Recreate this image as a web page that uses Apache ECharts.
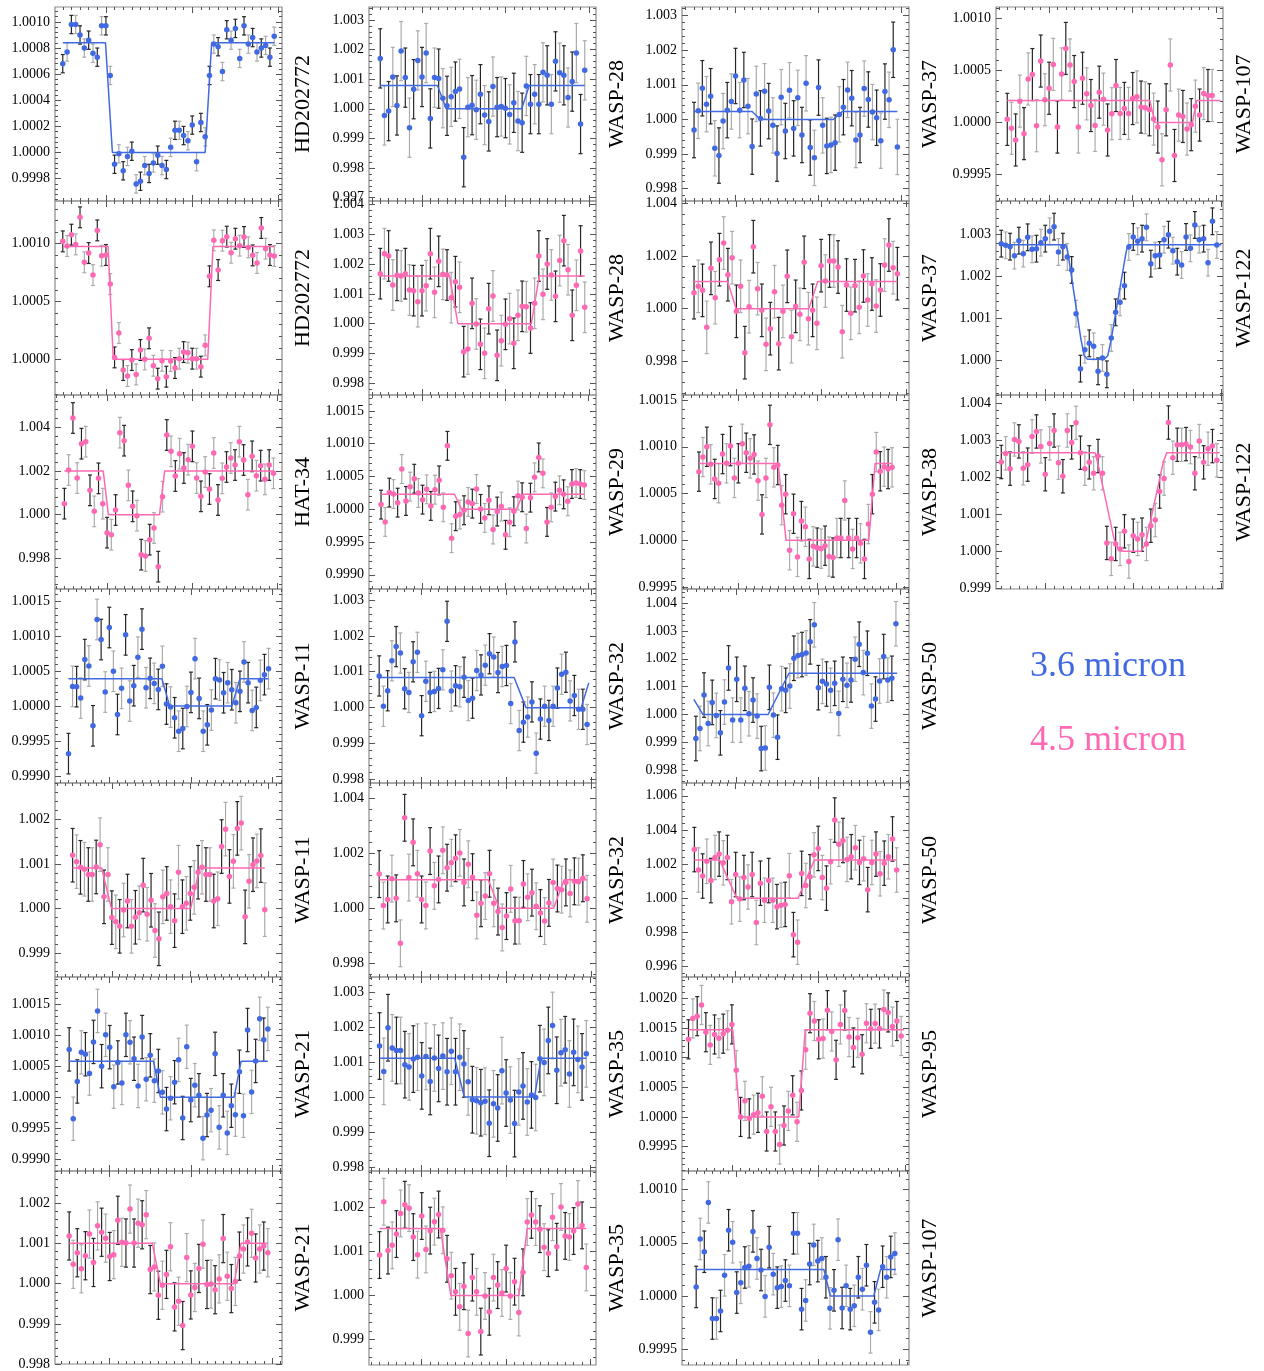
<!DOCTYPE html>
<html>
<head>
<meta charset="utf-8">
<script src="https://cdn.jsdelivr.net/npm/echarts@6/dist/echarts.min.js"></script>
<style>
  html, body { margin: 0; padding: 0; background: #fff; }
  #chart { width: 1264px; height: 1371px; }
</style>
</head>
<body>
<div id="chart"></div>
<script>
// Binned secondary-eclipse light curves, relative flux (F - 1) in ppm, one bin per entry.
const hd202772_36 = [680,770,980,980,900,800,860,760,730,970,970,590,-90,-10,-140,-30,10,-240,-220,-100,-160,-80,-20,-100,-130,40,170,170,130,90,210,-70,230,120,590,830,810,620,940,860,950,720,970,830,880,770,800,820,730,890];
const hd202772_45 = [1020,980,1078,994,1228,839,919,729,1115,896,902,651,17,228,-92,-144,-6,-130,81,0,182,-55,-167,-12,-150,-14,-75,6,63,58,6,6,-63,121,718,1029,772,1026,1061,922,1043,983,1058,968,899,833,1136,957,902,893];
const hat34_45 = [503,2041,4417,1675,3244,3335,1112,152,1660,503,-822,-914,213,3747,3381,1340,381,-46,-1828,-1889,-1142,-609,-2376,822,3640,2894,1767,2787,2132,2513,3122,1675,838,1949,1173,2818,670,1660,2178,2589,2269,3335,2498,914,2665,1782,2239,1614,2269,1889];
const wasp11_36 = [-680,282,278,115,665,574,-282,1239,952,201,1124,498,-120,254,1019,72,292,699,1101,263,397,325,239,569,29,-14,-167,-359,-321,-5,196,679,110,-359,-268,-57,392,373,191,335,234,48,211,632,335,-62,-19,368,450,536];
const wasp11_45 = [1195,1051,924,881,763,763,932,1432,263,763,-203,-297,-398,-34,169,-398,-195,-93,525,-127,186,-492,-678,263,339,42,-271,814,42,119,339,475,814,924,763,763,169,220,1390,1780,720,1059,1797,1915,-186,610,983,1068,1187,-25];
const wasp21_36 = [771,-349,253,723,693,380,892,1392,500,1006,807,169,560,229,1006,886,620,181,970,289,675,265,422,78,-193,-18,241,602,-337,813,-48,193,30,-663,-289,-211,699,-488,30,-578,-139,-283,410,-301,1084,84,584,1265,928,1102];
const wasp21_45 = [1190,484,772,372,698,1237,530,1442,1283,1135,679,725,1581,1032,1014,1860,1014,1507,1469,1721,353,419,-288,-37,233,921,-577,-437,-1042,651,-279,-93,381,986,-19,-9,-149,121,1125,186,-121,56,688,865,1042,1256,642,865,939,772];
const wasp28_36 = [1702,-224,-78,1075,112,1949,1053,-638,661,1635,1075,1882,-325,1053,1019,358,101,403,582,672,-1635,56,123,-34,493,-213,-426,750,56,78,22,-190,202,-414,-470,773,157,493,157,1232,1131,157,1602,1221,1131,381,918,1882,-515,1299];
const wasp28_45 = [1680,2352,2274,1299,1624,1602,1680,1131,1109,739,1109,1277,2352,1053,2094,1658,1635,874,1411,1221,-941,-851,683,-11,-694,-997,504,930,-1064,-571,-22,168,-661,280,582,571,-146,683,2274,986,2005,1635,918,2120,2789,1814,280,1288,2442,549];
const wasp29_45 = [71,-193,254,233,101,614,127,345,466,248,147,304,51,299,441,30,968,-441,-106,-81,-15,112,86,309,5,-132,137,-309,-35,41,-390,-198,-30,208,183,-294,177,487,791,548,-193,30,193,289,228,122,385,401,385,370];
const wasp32_36 = [883,38,470,1305,1700,1521,526,423,1277,1540,-225,732,423,451,535,1052,2404,460,610,582,845,197,263,1033,911,1183,1502,1408,977,1146,1174,113,1831,-639,-404,-263,160,-1268,-319,38,-357,38,545,930,986,188,338,-47,-47,-470];
const wasp32_45 = [1236,96,316,1071,357,-1277,3281,1112,2389,1249,316,96,2073,810,1043,2100,1469,1648,1812,2005,934,1593,1126,-261,178,439,1249,178,-124,-700,-288,700,-453,-453,879,398,563,69,-178,-467,192,934,714,673,934,535,975,960,1085,343];
const wasp35_36 = [1458,734,1979,1404,1330,1330,926,862,1085,1138,606,1160,447,1117,819,1170,724,1309,724,1138,947,436,-74,-106,-160,-117,-745,-192,-309,755,117,-85,-755,149,319,-138,64,-11,1096,990,1617,2043,766,1266,1351,660,1277,1075,862,1234];
const wasp35_45 = [918,2125,1020,1139,1394,1862,2057,1981,1326,927,1802,1046,1471,1675,1836,1479,833,451,85,-255,213,-859,408,85,-816,-9,-366,408,238,60,612,-9,315,-383,527,1666,1828,1666,1505,1097,961,1777,1105,2006,1352,1326,1462,2074,1590,638];
const wasp37_36 = [-307,249,901,441,671,-834,-1044,-48,268,517,1255,268,1140,383,-786,738,29,814,240,-172,-987,642,-335,843,-259,623,-450,1044,-814,-1111,920,-172,-766,-738,-671,144,354,853,613,-594,-450,891,575,211,48,-613,805,565,2012,-795];
const wasp37_45 = [609,850,697,-710,1534,418,1864,2498,1293,1940,-101,850,-1674,76,2358,761,-63,-1357,-761,647,-1331,-101,1230,-1065,89,-216,1763,-380,-63,-558,1636,1052,1813,1813,1585,-875,900,-178,875,51,1243,330,938,101,710,1661,2422,1560,1331];
const wasp38_45 = [734,890,1000,812,656,610,922,823,1007,667,823,1032,936,876,918,638,277,667,1234,780,805,376,493,-106,284,-177,206,145,-199,-64,-78,-89,-57,-174,-184,25,25,426,25,-92,25,-32,-199,174,493,943,738,787,762,780];
const wasp50_36 = [-865,-505,697,-325,433,-36,-661,445,1671,-204,1262,-204,938,24,517,-60,-1226,-1202,974,-24,-817,926,865,1022,2019,2116,2152,2212,2608,3221,962,1190,1094,865,1118,36,1262,1046,1238,1983,2524,1503,2200,300,553,1202,2079,1238,1298,3257];
const wasp50_45 = [2853,1659,1305,2168,1040,2389,2588,2079,2389,-199,1394,-44,1217,664,1394,-1416,885,-111,1040,-111,-487,-398,-354,1327,-2124,-2566,1460,752,1261,2544,2920,1217,597,2146,4579,3163,3384,2278,2433,2964,2101,2323,509,2101,2588,1438,2057,2433,3473,1659];
const wasp95_45 = [1310,1663,1701,1890,1430,1216,1392,1329,1405,1462,1562,788,0,271,-25,38,69,347,-246,170,-246,-466,-145,101,365,-82,447,1134,1751,1619,1310,1323,1802,1443,964,1562,1796,1348,1172,1336,1058,1581,1487,1575,1493,1814,1764,1525,1619,1367];
const wasp107_36 = [85,536,416,879,-212,-212,-141,194,618,505,32,124,268,279,607,353,244,-4,459,205,78,88,145,95,589,589,-124,-42,300,480,328,353,176,-116,53,529,-113,95,-124,-92,176,64,289,-342,-60,-131,275,176,367,399];
const wasp107_45 = [29,-57,-169,204,-108,417,459,-32,589,217,328,557,-45,465,710,551,392,-45,424,274,162,-29,290,223,-73,83,354,86,134,86,229,245,147,140,121,32,-45,-360,121,551,-318,70,57,-64,-22,156,70,277,258,258];
const wasp122_36 = [2785,2745,2713,2498,2857,2546,2937,2649,2665,2809,2905,3080,3192,2585,2713,2466,2155,1109,-207,247,399,327,-271,48,-343,527,1141,1381,1780,2705,2945,2841,2905,3176,2306,2498,2514,2881,3000,2617,2354,2274,2945,2673,3232,2881,2905,2330,3320,2753];
const wasp122_45 = [2410,2643,2231,3020,2966,2240,2339,3100,3235,2831,2079,2912,3261,2392,2025,3261,2939,3468,2661,2231,2401,2106,2572,2106,224,-206,197,63,538,-278,421,332,448,197,690,842,1613,1962,3476,2527,2876,2876,2894,2813,2106,2975,2401,2769,2840,2455];

// Best-fit eclipse models: [bin, ppm] vertices.
const hd202772_36_fit = [[0,840],[9.9,840],[11.5,0],[33.0,0],[34.5,840],[49,840]];
const hd202772_45_fit = [[0,975],[10.5,975],[11.7,0],[33.6,0],[34.8,975],[49,975]];
const hat34_45_fit = [[0,2000],[9.1,2000],[10.3,0],[22.3,0],[23.5,2000],[49,2000]];
const wasp11_36_fit = [[0,390],[22.9,390],[24.8,0],[40.0,0],[42.0,390],[49,390]];
const wasp11_45_fit = [[0,910],[7.4,910],[9.9,0],[30.1,0],[32.4,910],[49,910]];
const wasp21_36_fit = [[0,580],[20.8,580],[22.5,0],[40.7,0],[42.4,580],[49,580]];
const wasp21_45_fit = [[0,1010],[20.5,1010],[22.5,0],[40.7,0],[42.4,1010],[49,1010]];
const wasp28_36_fit = [[0,790],[13.7,790],[15.8,0],[33.9,0],[35.7,790],[49,790]];
const wasp28_45_fit = [[0,1600],[16.6,1600],[18.6,0],[36.2,0],[38.1,1600],[49,1600]];
const wasp29_45_fit = [[0,230],[17.7,230],[19.4,0],[32.6,0],[34.2,230],[49,230]];
const wasp32_36_fit = [[0,840],[31.8,840],[34.6,0],[47.6,0],[49.4,690]];
const wasp32_45_fit = [[0,1030],[25.7,1030],[28.3,0],[41.1,0],[43.6,1030],[49,1030]];
const wasp35_36_fit = [[0,1110],[17.8,1110],[20.1,0],[36.7,0],[38.3,1110],[49,1110]];
const wasp35_45_fit = [[0,1520],[14.4,1520],[16.9,0],[33.0,0],[35.0,1520],[49,1520]];
const wasp37_36_fit = [[0,230],[14.0,230],[16.0,0],[33.6,0],[35.7,230],[49,230]];
const wasp37_45_fit = [[0,1030],[7.96,1030],[9.93,0],[27.1,0],[29.2,1030],[48,1030]];
const wasp38_45_fit = [[0,820],[20.1,820],[22.1,0],[43.1,0],[44.7,820],[49,820]];
const wasp50_36_fit = [[-0.5,541],[1.7,0],[17.7,0],[22.8,1480],[49.3,1480]];
const wasp50_45_fit = [[0,2250],[6.1,2250],[10.3,0],[25.1,0],[29.1,2250],[49,2250]];
const wasp95_45_fit = [[0,1470],[10.2,1470],[11.8,0],[25.4,0],[26.9,1470],[49.6,1470]];
const wasp107_36_fit = [[0,250],[31.5,250],[33.1,0],[43.8,0],[45.5,250],[49.3,250]];
const wasp107_45_fit = [[0,210],[34.1,210],[35.3,0],[44.3,0],[45.3,210],[51,210]];
const wasp122_36_fit = [[0,2760],[14.66,2760],[15.1,2600],[18.1,500],[18.85,100],[19.6,20],[23.4,20],[24.2,100],[25.0,500],[28.4,2600],[28.9,2760],[50,2760]];
const wasp122_45_fit = [[0,2660],[21.3,2660],[21.9,2400],[25.7,300],[26.7,30],[27.6,0],[31.8,0],[32.8,200],[36.8,2400],[37.6,2660],[49.6,2660]];

// One panel per target and channel; err = 1-sigma bin uncertainty (ppm),
// y = [min, max, major step] in ppm, x = bin range shown.
const panels = [
  { target: 'HD202772', band: '3.6', col: 0, row: 0, flux: hd202772_36, fit: hd202772_36_fit, err: 70,  y: [-371, 1114, 200],  x: [-1.8, 50.8] },
  { target: 'HD202772', band: '4.5', col: 0, row: 1, flux: hd202772_45, fit: hd202772_45_fit, err: 90,  y: [-308, 1369, 500],  x: [-1.8, 50.8] },
  { target: 'HAT-34',   band: '4.5', col: 0, row: 2, flux: hat34_45,    fit: hat34_45_fit,    err: 700, y: [-3396, 5468, 2000], x: [-2.2, 51.0] },
  { target: 'WASP-11',  band: '3.6', col: 0, row: 3, flux: wasp11_36,   fit: wasp11_36_fit,   err: 290, y: [-1100, 1675, 500], x: [-3.3, 52.3] },
  { target: 'WASP-11',  band: '4.5', col: 0, row: 4, flux: wasp11_45,   fit: wasp11_45_fit,   err: 600, y: [-1534, 2814, 1000], x: [-4.5, 53.4] },
  { target: 'WASP-21',  band: '3.6', col: 0, row: 5, flux: wasp21_36,   fit: wasp21_36_fit,   err: 350, y: [-1193, 1940, 500], x: [-3.5, 52.5] },
  { target: 'WASP-21',  band: '4.5', col: 0, row: 6, flux: wasp21_45,   fit: wasp21_45_fit,   err: 600, y: [-2000, 2809, 1000], x: [-3.5, 52.5] },
  { target: 'WASP-28',  band: '3.6', col: 1, row: 0, flux: wasp28_36,   fit: wasp28_36_fit,   err: 1000, y: [-3114, 3438, 1000], x: [-2.7, 51.7] },
  { target: 'WASP-28',  band: '4.5', col: 1, row: 1, flux: wasp28_45,   fit: wasp28_45_fit,   err: 850, y: [-2397, 4122, 1000], x: [-2.7, 51.7] },
  { target: 'WASP-29',  band: '4.5', col: 1, row: 2, flux: wasp29_45,   fit: wasp29_45_fit,   err: 220, y: [-1217, 1744, 500], x: [-2.9, 51.8] },
  { target: 'WASP-32',  band: '3.6', col: 1, row: 3, flux: wasp32_36,   fit: wasp32_36_fit,   err: 560, y: [-2100, 3305, 1000], x: [-2.4, 51.1] },
  { target: 'WASP-32',  band: '4.5', col: 1, row: 4, flux: wasp32_45,   fit: wasp32_45_fit,   err: 850, y: [-2499, 4544, 2000], x: [-2.4, 51.1] },
  { target: 'WASP-35',  band: '3.6', col: 1, row: 5, flux: wasp35_36,   fit: wasp35_36_fit,   err: 950, y: [-2107, 3426, 1000], x: [-2.5, 51.3] },
  { target: 'WASP-35',  band: '4.5', col: 1, row: 6, flux: wasp35_45,   fit: wasp35_45_fit,   err: 530, y: [-1572, 2822, 1000], x: [-2.5, 51.3] },
  { target: 'WASP-37',  band: '3.6', col: 2, row: 0, flux: wasp37_36,   fit: wasp37_36_fit,   err: 800, y: [-2357, 3248, 1000], x: [-2.9, 51.8] },
  { target: 'WASP-37',  band: '4.5', col: 2, row: 1, flux: wasp37_45,   fit: wasp37_45_fit,   err: 1000, y: [-3284, 4096, 2000], x: [-2.84, 50.75] },
  { target: 'WASP-38',  band: '4.5', col: 2, row: 2, flux: wasp38_45,   fit: wasp38_45_fit,   err: 210, y: [-520, 1553, 500],  x: [-4.3, 53.3] },
  { target: 'WASP-50',  band: '3.6', col: 2, row: 3, flux: wasp50_36,   fit: wasp50_36_fit,   err: 800, y: [-2464, 4508, 1000], x: [-3.4, 52.2] },
  { target: 'WASP-50',  band: '4.5', col: 2, row: 4, flux: wasp50_45,   fit: wasp50_45_fit,   err: 1300, y: [-4601, 6747, 2000], x: [-3.0, 52.0] },
  { target: 'WASP-95',  band: '4.5', col: 2, row: 5, flux: wasp95_45,   fit: wasp95_45_fit,   err: 330, y: [-913, 2362, 500],  x: [-1.5, 50.8] },
  { target: 'WASP-107', band: '3.6', col: 2, row: 6, flux: wasp107_36,  fit: wasp107_36_fit,  err: 195, y: [-649, 1175, 500],  x: [-3.5, 52.5] },
  { target: 'WASP-107', band: '4.5', col: 3, row: 0, flux: wasp107_45,  fit: wasp107_45_fit,  err: 250, y: [-755, 1108, 500],  x: [-2.7, 51.6] },
  { target: 'WASP-122', band: '3.6', col: 3, row: 1, flux: wasp122_36,  fit: wasp122_36_fit,  err: 320, y: [-838, 3806, 1000], x: [-1.2, 50.4] },
  { target: 'WASP-122', band: '4.5', col: 3, row: 2, flux: wasp122_45,  fit: wasp122_45_fit,  err: 450, y: [-1020, 4220, 1000], x: [-1.2, 50.4] }
];

const BAND_COLOR = { '3.6': '#4169e1', '4.5': '#ff69b4' };
const BAND_NAME = { '3.6': '3.6 micron', '4.5': '4.5 micron' };
const X_MAJOR_TICKS = [10, 30, 50];
const X_MINOR_STEP = 2;

const COL_LEFT = [55, 369, 682, 996];
const ROW_TOP = [7, 201, 395, 589, 783, 977, 1171];
const PANEL_W = 227, PANEL_H = 194;
const SERIF = '"Liberation Serif", "Times New Roman", serif';

function ticksBetween(min, max, step) {
  const out = [];
  for (let k = Math.ceil(min / step - 1e-9); k * step <= max + 1e-9; k++) out.push(k * step);
  return out;
}

function renderErrorBar(params, api) {
  const x = api.value(0);
  const top = api.coord([x, api.value(2)]);
  const bot = api.coord([x, api.value(1)]);
  const stroke = api.value(3) ? '#ababab' : '#262626';
  const cap = 2;
  const st = { stroke: stroke, lineWidth: 1.2 };
  return {
    type: 'group',
    children: [
      { type: 'line', shape: { x1: top[0], y1: top[1], x2: bot[0], y2: bot[1] }, style: st },
      { type: 'line', shape: { x1: top[0] - cap, y1: top[1], x2: top[0] + cap, y2: top[1] }, style: st },
      { type: 'line', shape: { x1: bot[0] - cap, y1: bot[1], x2: bot[0] + cap, y2: bot[1] }, style: st }
    ]
  };
}

const option = {
  animation: false,
  backgroundColor: '#fff',
  grid: [], xAxis: [], yAxis: [], series: [],
  graphic: [
    { type: 'text', x: 1108, y: 667, style: { text: BAND_NAME['3.6'], fill: BAND_COLOR['3.6'], font: '36px ' + SERIF, align: 'center', verticalAlign: 'middle' } },
    { type: 'text', x: 1108, y: 741, style: { text: BAND_NAME['4.5'], fill: BAND_COLOR['4.5'], font: '36px ' + SERIF, align: 'center', verticalAlign: 'middle' } }
  ]
};

panels.forEach((p, g) => {
  const color = BAND_COLOR[p.band];
  option.grid.push({
    left: COL_LEFT[p.col], top: ROW_TOP[p.row], width: PANEL_W, height: PANEL_H,
    show: true, borderColor: '#8c8c8c', borderWidth: 1.2, backgroundColor: 'transparent'
  });

  const [ymin, ymax, ystep] = p.y;
  const yMajor = ticksBetween(ymin, ymax, ystep);
  const yMinor = ticksBetween(ymin, ymax, ystep / 5);
  const decimals = ystep < 1000 ? 4 : 3;
  const xMajor = X_MAJOR_TICKS.filter(v => v >= p.x[0] && v <= p.x[1]);
  const xMinor = ticksBetween(p.x[0], p.x[1], X_MINOR_STEP);

  const common = {
    gridIndex: g, type: 'value',
    axisLine: { show: false, onZero: false },
    splitLine: { show: false },
    axisLabel: { show: false }
  };
  const tick = (vals, len) => ({ show: true, inside: true, length: len, customValues: vals, lineStyle: { color: '#555', width: 1 } });

  [['bottom', xMajor, 6], ['bottom', xMinor, 3], ['top', xMajor, 6], ['top', xMinor, 3]].forEach(([pos, vals, len]) => {
    option.xAxis.push(Object.assign({}, common, { position: pos, min: p.x[0], max: p.x[1], axisTick: tick(vals, len) }));
  });

  option.yAxis.push(Object.assign({}, common, {
    position: 'left', min: ymin, max: ymax, axisTick: tick(yMajor, 6),
    axisLabel: {
      show: true, customValues: yMajor, margin: 5, color: '#000',
      fontFamily: SERIF, fontSize: 14,
      formatter: v => (1 + v / 1e6).toFixed(decimals)
    }
  }));
  option.yAxis.push(Object.assign({}, common, { position: 'left', min: ymin, max: ymax, axisTick: tick(yMinor, 3) }));
  option.yAxis.push(Object.assign({}, common, {
    position: 'right', min: ymin, max: ymax, axisTick: tick(yMajor, 6),
    name: p.target, nameLocation: 'middle', nameGap: 10, nameRotate: 90,
    nameTextStyle: { fontFamily: SERIF, fontSize: 22, color: '#000' }
  }));
  option.yAxis.push(Object.assign({}, common, { position: 'right', min: ymin, max: ymax, axisTick: tick(yMinor, 3) }));

  const axisIdx = { xAxisIndex: 4 * g, yAxisIndex: 4 * g };
  option.series.push(Object.assign({
    type: 'custom', name: BAND_NAME[p.band], renderItem: renderErrorBar, clip: true, z: 1,
    encode: { x: 0, y: [1, 2] },
    data: p.flux.map((f, i) => [i, f - p.err, f + p.err, i % 2])
  }, axisIdx));
  option.series.push(Object.assign({
    type: 'line', name: BAND_NAME[p.band], data: p.fit, showSymbol: false, symbol: 'none', z: 2,
    lineStyle: { color: color, width: 1.5 }, itemStyle: { color: color }
  }, axisIdx));
  option.series.push(Object.assign({
    type: 'scatter', name: BAND_NAME[p.band], symbolSize: 5.5, z: 3,
    itemStyle: { color: color, opacity: 1 },
    data: p.flux.map((f, i) => [i, f])
  }, axisIdx));
});

const chart = echarts.init(document.getElementById('chart'), null, { renderer: 'canvas' });
chart.setOption(option);
</script>
</body>
</html>
